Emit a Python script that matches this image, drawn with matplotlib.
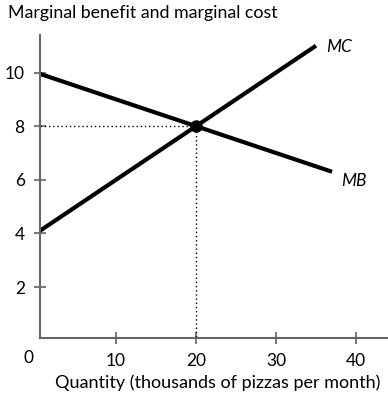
# Marginal benefit and marginal cost of pizzas

import matplotlib.pyplot as plt

plt.rcParams['font.family'] = ['Lato', 'DejaVu Sans']

quantity_mc = [0, 35]
mc = [4, 11]
quantity_mb = [0, 37]
mb = [10, 6.3]
eq_q = 20
eq_p = 8
x_ticks = [10, 20, 30, 40]
y_ticks = [2, 4, 6, 8, 10]

fig = plt.figure(figsize=(3.88, 3.99), dpi=100)
ax = fig.add_axes([40 / 388, 1 - 338 / 399, 348 / 388, 303 / 399])

ax.plot(quantity_mc, mc, color="black", lw=3, solid_capstyle="butt")
ax.plot(quantity_mb, mb, color="black", lw=3, solid_capstyle="butt")
ax.plot([0, eq_q], [eq_p, eq_p], color="black", lw=1, ls=(0, (1, 2)))
ax.plot([eq_q, eq_q], [0, eq_p], color="black", lw=1, ls=(0, (1, 2)))
ax.plot(eq_q, eq_p, "o", color="black", ms=8)

ax.text(36.3, 10.95, "MC", style="italic", fontsize=12.5, ha="left", va="center")
ax.text(38.2, 5.95, "MB", style="italic", fontsize=12.5, ha="left", va="center")

ax.set_xlim(0.5, 44)
ax.set_ylim(0.1, 11.4)
ax.set_xticks(x_ticks)
ax.set_yticks(y_ticks)
ax.tick_params(direction="inout", length=8, width=1.2, color="#666666",
               labelsize=12.5, pad=7)
for side in ["top", "right"]:
    ax.spines[side].set_visible(False)
for side in ["left", "bottom"]:
    ax.spines[side].set_color("#666666")
    ax.spines[side].set_linewidth(1.5)

fig.text(29 / 388, 1 - 358 / 399, "0", fontsize=12.5, ha="center", va="center")
fig.text(8 / 388, 1 - 13 / 399, "Marginal benefit and marginal cost",
         fontsize=12.8, ha="left", va="center")
fig.text(380 / 388, 1 - 383 / 399, "Quantity (thousands of pizzas per month)",
         fontsize=13.0, ha="right", va="center")

fig.savefig("out.png", dpi=100)
